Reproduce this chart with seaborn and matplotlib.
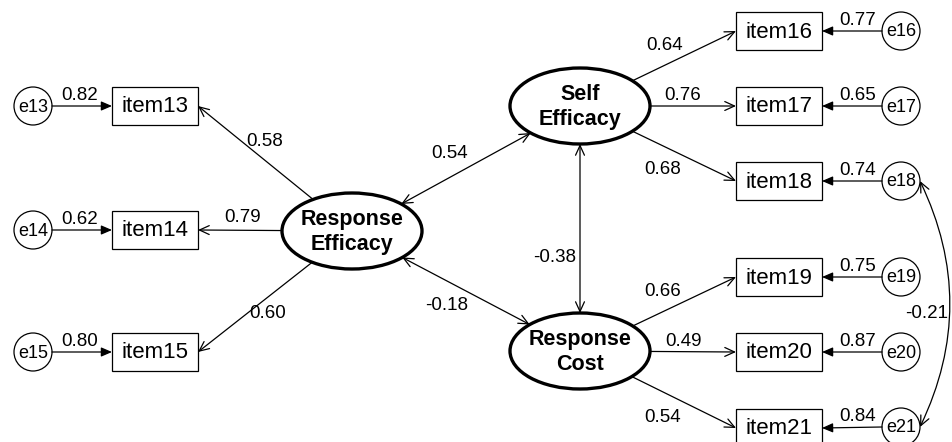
import numpy as np
import matplotlib
matplotlib.use("Agg")
import matplotlib.pyplot as plt
from matplotlib.patches import Ellipse, Rectangle, Circle, FancyArrowPatch
import seaborn as sns

# ---------------- data ----------------
latents = ["Response\nEfficacy", "Self\nEfficacy", "Response\nCost"]
items = ["item13", "item14", "item15", "item16", "item17", "item18",
         "item19", "item20", "item21"]
item_factor = [0, 0, 0, 1, 1, 1, 2, 2, 2]
loadings = ["0.58", "0.79", "0.60", "0.64", "0.76", "0.68", "0.66", "0.49", "0.54"]
errors = ["e13", "e14", "e15", "e16", "e17", "e18", "e19", "e20", "e21"]
error_paths = ["0.82", "0.62", "0.80", "0.77", "0.65", "0.74", "0.75", "0.87", "0.84"]
factor_corr_pairs = [(0, 1), (0, 2), (1, 2)]
factor_corrs = ["0.54", "-0.18", "-0.38"]
error_corr_pair = (5, 8)
error_corr = "-0.21"

# ---------------- layout (pixel space) ----------------
latent_pos = [(352, 231), (580, 106), (580, 351)]
latent_ax = (70, 38)
item_pos = [(155, 106), (155, 230), (155, 352),
            (779, 31), (779, 106), (779, 181),
            (779, 277), (779, 352), (779, 428)]
box_w, box_h = 86, 38
err_pos = [(33, 106), (33, 230), (33, 352),
           (901, 31), (901, 106), (901, 181),
           (901, 277), (901, 352), (901, 427)]
err_r = 19
loading_lbl = [(265, 142), (243, 218), (268, 313),
               (665, 45), (683, 95), (663, 170),
               (663, 292), (683, 342), (663, 417)]
corr_lbl = [(450, 153), (447, 305), (555, 257)]
err_corr_lbl = (927, 313)

sns.set_theme(style="white")
plt.rcParams["font.family"] = ["Liberation Sans", "DejaVu Sans"]
plt.rcParams["text.color"] = "black"

fig = plt.figure(figsize=(9.52, 4.42), dpi=100)
ax = fig.add_axes([0, 0, 1, 1])
ax.set_xlim(0, 952)
ax.set_ylim(442, 0)
ax.set_axis_off()

LW = 0.9
LBL = 13.5
open_head = "->,head_length=0.7,head_width=0.32"
open_both = "<->,head_length=0.7,head_width=0.32"
fill_head = "-|>,head_length=0.65,head_width=0.28"


def ell_pt(c, target):
    c = np.array(c, float)
    d = np.array(target, float) - c
    t = 1.0 / np.sqrt((d[0] / latent_ax[0]) ** 2 + (d[1] / latent_ax[1]) ** 2)
    return tuple(c + t * d)


def arrow(p0, p1, style, **kw):
    a = FancyArrowPatch(p0, p1, arrowstyle=style, mutation_scale=10,
                        lw=LW, color="black", shrinkA=0, shrinkB=0, **kw)
    ax.add_patch(a)


# latent ellipses
for name, (x, y) in zip(latents, latent_pos):
    ax.add_patch(Ellipse((x, y), 2 * latent_ax[0], 2 * latent_ax[1],
                         fill=False, ec="black", lw=2.4, zorder=3))
    ax.text(x, y + 1, name, ha="center", va="center", fontsize=15.5,
            fontweight="bold", linespacing=1.25, zorder=4)

# items, errors
for i, (name, (x, y)) in enumerate(zip(items, item_pos)):
    ax.add_patch(Rectangle((x - box_w / 2, y - box_h / 2), box_w, box_h,
                           fill=False, ec="black", lw=0.9, zorder=3))
    ax.text(x, y + 1, name, ha="center", va="center", fontsize=16, zorder=4)
    ex, ey = err_pos[i]
    ax.add_patch(Circle((ex, ey), err_r, fill=False, ec="black", lw=0.9, zorder=3))
    ax.text(ex, ey + 1, errors[i], ha="center", va="center", fontsize=13, zorder=4)
    left_side = x < 476
    if left_side:
        p0 = (ex + err_r, ey)
        p1 = (x - box_w / 2, y)
        attach = (x + box_w / 2, y)
    else:
        p0 = (ex - err_r, ey)
        p1 = (x + box_w / 2, y)
        attach = (x - box_w / 2, y)
    arrow(p0, p1, fill_head)
    ax.text((p0[0] + p1[0]) / 2 + (-2 if left_side else 6), ey - 2,
            error_paths[i], ha="center", va="bottom", fontsize=LBL)
    # loading path
    c = latent_pos[item_factor[i]]
    arrow(ell_pt(c, attach), attach, open_head)
    lx, ly = loading_lbl[i]
    ax.text(lx, ly, loadings[i], ha="center", va="center", fontsize=LBL)

# factor correlations
for (a, b), val, (lx, ly) in zip(factor_corr_pairs, factor_corrs, corr_lbl):
    ca, cb = latent_pos[a], latent_pos[b]
    arrow(ell_pt(ca, cb), ell_pt(cb, ca), open_both)
    ax.text(lx, ly, val, ha="center", va="center", fontsize=LBL)

# error correlation (curved)
ea, eb = err_pos[error_corr_pair[0]], err_pos[error_corr_pair[1]]
arrow((ea[0] + err_r, ea[1]), (eb[0] + err_r, eb[1]), open_both,
      connectionstyle="arc3,rad=-0.24")
ax.text(err_corr_lbl[0], err_corr_lbl[1], error_corr, ha="center",
        va="center", fontsize=LBL)

fig.savefig("out.png", dpi=100, facecolor="white")
